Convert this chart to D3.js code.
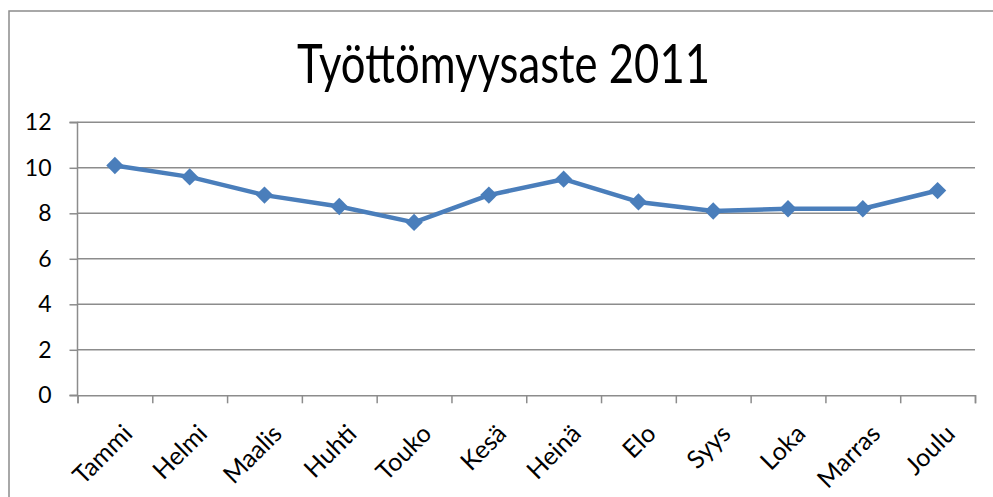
<!DOCTYPE html>
<html>
<head>
<meta charset="utf-8">
<script src="https://cdn.jsdelivr.net/npm/d3@7"></script>
<style>
  body { margin: 0; background: #fff; }
  text { font-family: Lato, "Open Sans", sans-serif; fill: #000; }
</style>
</head>
<body>
<div id="plot"></div>
<script>
// Data
var months = ["Tammi", "Helmi", "Maalis", "Huhti", "Touko", "Kesä", "Heinä", "Elo", "Syys", "Loka", "Marras", "Joulu"];
var rates = [10.1, 9.6, 8.8, 8.3, 7.6, 8.8, 9.5, 8.5, 8.1, 8.2, 8.2, 9.0];
var yTicks = [0, 2, 4, 6, 8, 10, 12];
var title = "Työttömyysaste 2011";

// Canvas size
var svgWidth = 993;
var svgHeight = 497;

// Plot area inside the canvas
var margin = {
  top: 122.3,
  right: 18,
  bottom: 101.7,
  left: 77.5
};
var width = svgWidth - margin.left - margin.right;
var height = svgHeight - margin.top - margin.bottom;

var svg = d3.select("#plot")
  .append("svg")
  .attr("width", svgWidth)
  .attr("height", svgHeight);

// outer chart border (runs off the right and bottom edge)
svg.append("rect")
  .attr("x", 9)
  .attr("y", 11)
  .attr("width", 1000)
  .attr("height", 500)
  .attr("fill", "none")
  .attr("stroke", "#8c8c8c")
  .attr("stroke-width", 1.5);

// Title
svg.append("text")
  .attr("x", 503.5)
  .attr("y", 83)
  .attr("text-anchor", "middle")
  .attr("textLength", 413)
  .attr("lengthAdjust", "spacingAndGlyphs")
  .style("font-size", "55px")
  .text(title);

var chartGroup = svg.append("g")
  .attr("transform", `translate(${margin.left}, ${margin.top})`);

// Scales
var xBandScale = d3.scaleBand()
  .domain(months)
  .range([0, width]);

var yLinearScale = d3.scaleLinear()
  .domain([0, 12])
  .range([height, 0]);

// Gridlines
chartGroup.append("g")
  .selectAll("line")
  .data(yTicks.filter(d => d > 0))
  .enter()
  .append("line")
  .attr("x1", 0)
  .attr("x2", width)
  .attr("y1", d => yLinearScale(d))
  .attr("y2", d => yLinearScale(d))
  .attr("stroke", "#8c8c8c")
  .attr("stroke-width", 1.5);

// Left axis
var leftAxis = d3.axisLeft(yLinearScale)
  .tickValues(yTicks)
  .tickSize(8)
  .tickPadding(18);

var yAxisGroup = chartGroup.append("g")
  .call(leftAxis);

// Bottom axis, ticks on band edges
var bottomAxis = d3.axisBottom(d3.scaleLinear().domain([0, 12]).range([0, width]))
  .tickValues(d3.range(13))
  .tickSize(8)
  .tickFormat("");

var xAxisGroup = chartGroup.append("g")
  .attr("transform", `translate(0, ${height})`)
  .call(bottomAxis);

[yAxisGroup, xAxisGroup].forEach(function(g) {
  g.select(".domain").attr("stroke", "#8c8c8c").attr("stroke-width", 1.5);
  g.selectAll(".tick line").attr("stroke", "#8c8c8c").attr("stroke-width", 1.5);
});
yAxisGroup.select(".domain").attr("d", `M-8,${height}H0V0H-8`);
yAxisGroup.selectAll(".tick text")
  .style("font-size", "23px")
  .attr("fill", "#000");

// Rotated month labels
chartGroup.append("g")
  .selectAll("text")
  .data(months)
  .enter()
  .append("text")
  .attr("text-anchor", "end")
  .attr("transform", d => `translate(${xBandScale(d) + xBandScale.bandwidth() / 2 + 19}, ${height + 40}) rotate(-45)`)
  .style("font-size", "25px")
  .text(d => d);

// Line
var line = d3.line()
  .x((d, i) => xBandScale(months[i]) + xBandScale.bandwidth() / 2)
  .y(d => yLinearScale(d));

chartGroup.append("path")
  .datum(rates)
  .attr("d", line)
  .attr("fill", "none")
  .attr("stroke", "#4a7ebb")
  .attr("stroke-width", 4.5)
  .attr("stroke-linejoin", "round");

// Diamond markers
var diamond = d3.symbol().type(d3.symbolSquare).size(150);
chartGroup.selectAll(".marker")
  .data(rates)
  .enter()
  .append("path")
  .attr("class", "marker")
  .attr("d", diamond)
  .attr("transform", (d, i) => `translate(${xBandScale(months[i]) + xBandScale.bandwidth() / 2}, ${yLinearScale(d)}) rotate(45)`)
  .attr("fill", "#4a7ebb");
</script>
</body>
</html>
